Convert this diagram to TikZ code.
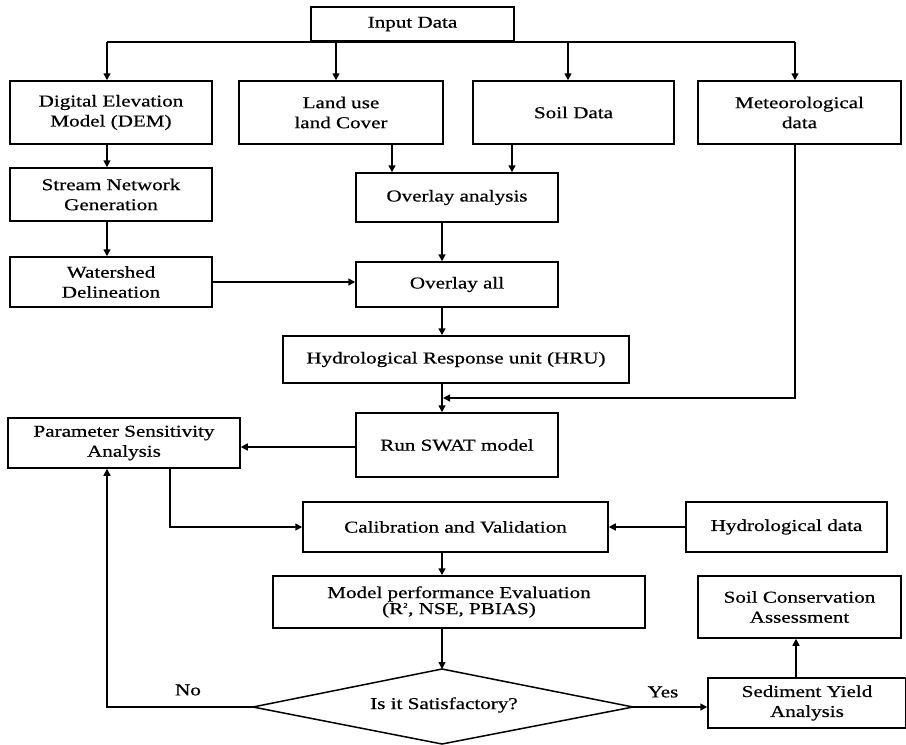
\documentclass[tikz,border=0pt]{standalone}
\usepackage{fontspec}
\setmainfont{Liberation Serif}[FakeStretch=1.27,FakeBold=0.6]
\usetikzlibrary{arrows.meta,calc}
\begin{document}
\begin{tikzpicture}[x=1pt,y=-1pt,
  box/.style={draw, line width=1.5pt, align=center, inner sep=0pt},
  arr/.style={line width=1.5pt, -{Triangle[length=7pt,width=7pt]}},
  ln/.style={line width=1.5pt},
  font=\fontsize{16.6}{20}\selectfont]
\useasboundingbox (0,0) rectangle (906,745);
% columns
\coordinate (c1) at (107,0);
\coordinate (clu) at (336,0);
\coordinate (clu2) at (392,0);
\coordinate (cso) at (568,0);
\coordinate (cso2) at (512,0);
\coordinate (cm) at (442,0);
\coordinate (cmet) at (795,0);
\coordinate (cp) at (170,0);
\coordinate (csc) at (796,0);
% nodes
\node[box, minimum width=203, minimum height=34] (in) at (412.5,24) {Input Data};
\node[box, minimum width=202, minimum height=63] (dem) at (111,112.5) {Digital Elevation\\Model (DEM)};
\node[box, minimum width=204, minimum height=63] (lulc) at (341,112.5) {Land use\\land Cover};
\node[box, minimum width=201, minimum height=63] (soil) at (573.5,112.5) {Soil Data};
\node[box, minimum width=203, minimum height=63] (met) at (799.5,112.5) {Meteorological\\data};
\node[box, minimum width=202, minimum height=53] (stream) at (111,194.5) {Stream Network\\Generation};
\node[box, minimum width=202, minimum height=49] (ova) at (457,197.5) {Overlay analysis};
\node[box, minimum width=202, minimum height=50] (ws) at (111,282) {Watershed\\Delineation};
\node[box, minimum width=202, minimum height=45] (ovall) at (457,284.5) {Overlay all};
\node[box, minimum width=346, minimum height=47] (hru) at (456,359.5) {Hydrological Response unit (HRU)};
\node[box, minimum width=202, minimum height=64] (swat) at (457,445) {Run SWAT model};
\node[box, minimum width=232, minimum height=50] (param) at (124,443) {Parameter Sensitivity\\Analysis};
\node[box, minimum width=305, minimum height=50] (calib) at (455.5,527) {Calibration and Validation};
\node[box, minimum width=201, minimum height=50] (hyd) at (786.5,527) {Hydrological data};
\node[box, minimum width=372, minimum height=52, font=\fontsize{16.6}{15}\selectfont] (model) at (459,602) {Model performance Evaluation\\(R\textsuperscript{\scriptsize 2}, NSE, PBIAS)};
\node[box, minimum width=198, minimum height=50] (sed) at (807,703) {Sediment Yield\\Analysis};
\node[box, minimum width=203, minimum height=62] (soilc) at (799.5,607) {Soil Conservation\\Assessment};
% decision
\coordinate (dt) at (442,669);
\coordinate (dl) at (253,707);
\coordinate (dr) at (633,707);
\coordinate (db) at (442,744);
\draw[ln] (dt) -- (dr) -- (db) -- (dl) -- cycle;
\node (dia) at (444,705) {Is it Satisfactory?};
% bus
\draw[ln] (c1 |- in.south) -- (cmet |- in.south);
\draw[arr] (c1 |- in.south) -- (c1 |- dem.north);
\draw[arr] (clu |- in.south) -- (clu |- lulc.north);
\draw[arr] (cso |- in.south) -- (cso |- soil.north);
\draw[arr] (cmet |- in.south) -- (cmet |- met.north);
% left column
\draw[arr] (c1 |- dem.south) -- (c1 |- stream.north);
\draw[arr] (c1 |- stream.south) -- (c1 |- ws.north);
\draw[arr] (ws.east) -- (ws.east -| ovall.west);
% middle
\draw[arr] (clu2 |- lulc.south) -- (clu2 |- ova.north);
\draw[arr] (cso2 |- soil.south) -- (cso2 |- ova.north);
\draw[arr] (cm |- ova.south) -- (cm |- ovall.north);
\draw[arr] (cm |- ovall.south) -- (cm |- hru.north);
\draw[arr] (cm |- hru.south) -- (cm |- swat.north);
\coordinate (j) at (443,398);
\draw[arr] (cmet |- met.south) -- (cmet |- j) -- (j);
\draw[arr] (swat.west |- 0,447) -- (param.east |- 0,447);
\draw[arr] (cp |- param.south) -- (cp |- calib.west) -- (calib.west);
\draw[arr] (hyd.west) -- (calib.east);
\draw[arr] (cm |- calib.south) -- (cm |- model.north);
\draw[arr] (cm |- model.south) -- (dt);
% decision outputs
\draw[arr] (dl) -- (c1 |- dl) -- (c1 |- param.south);
\node (no) at (188,690) {No};
\draw[arr] (dr) -- (dr -| sed.west);
\node (yes) at (663,692) {Yes};
\draw[arr] (csc |- sed.north) -- (csc |- soilc.south);
\end{tikzpicture}
\end{document}
